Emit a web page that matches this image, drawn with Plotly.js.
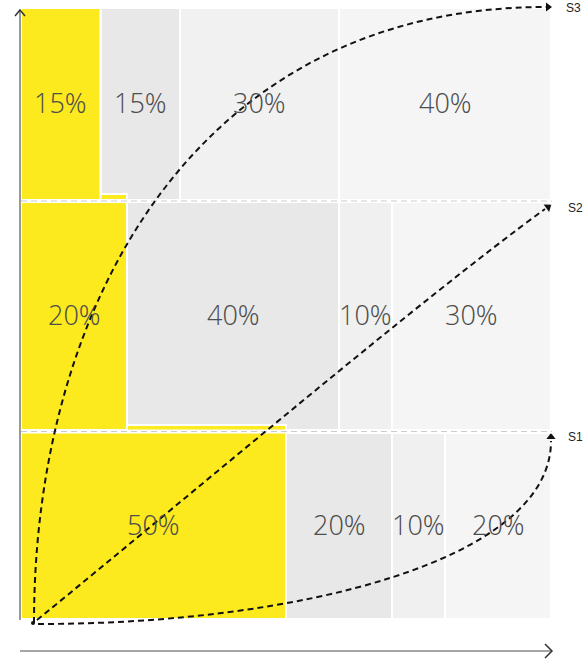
<!DOCTYPE html>
<html>
<head>
<meta charset="utf-8">
<script src="https://cdn.plot.ly/plotly-3.0.1.min.js"></script>
<style>html,body{margin:0;padding:0;background:#fff;}#chart{width:584px;height:659px;}</style>
</head>
<body>
<div id="chart"></div>
<script>
// ---- data ----
const rows = ['S1', 'S2', 'S3'];
const segA = [50, 20, 15];   // yellow segment
const segB = [20, 40, 15];
const segC = [10, 10, 30];
const segD = [20, 30, 40];

// ---- layout geometry (pixels) ----
const W = 584, H = 659;
const X0 = 21, PXU = 5.3;          // x=0 at px 21, 1 unit = 5.3 px
const YBASE = 620;                 // y=0 at px 620, 1 unit = 1 px
const dx = px => (px - X0) / PXU;
const dy = py => YBASE - py;

const rowCenter = [94, 304, 516];
const rowHeight = [186, 228, 192];
const yellowExt = [8, 8, 0];

const segs = [segA, segB, segC, segD];
const colors = [
  ['#FCE91E', '#FCE91E', '#FCE91E'],
  ['#E8E8E8', '#E8E8E8', '#E8E8E8'],
  ['#F0F0F0', '#F0F0F0', '#F1F1F1'],
  ['#F5F5F5', '#F5F5F5', '#F5F5F5']
];

const traces = [];
const bases = rows.map(() => 0);
const built = segs.map((vals, si) => {
  const base = bases.slice();
  vals.forEach((v, i) => { bases[i] += v; });
  const isY = si === 0;
  return {
    type: 'bar', orientation: 'h',
    x: vals, base: base,
    y: rowCenter.map((c, i) => isY ? c + yellowExt[i] / 2 : c),
    width: rowHeight.map((h, i) => isY ? h + yellowExt[i] : h),
    marker: {color: colors[si], line: {color: '#ffffff', width: 2}},
    hoverinfo: 'skip', showlegend: false
  };
});
// draw grays first, yellow last (on top)
traces.push(built[1], built[2], built[3], built[0]);

// percentage labels (centred in each segment)
const annotations = [];
{
  const acc = rows.map(() => 0);
  segs.forEach(vals => {
    vals.forEach((v, i) => {
      annotations.push({
        x: acc[i] + v / 2, y: rowCenter[i] + 2, xref: 'x', yref: 'y',
        text: v + '%', showarrow: false, xanchor: 'center', yanchor: 'middle',
        font: {family: 'Open Sans Light, Open Sans, sans-serif', size: 27, color: '#4d4d4d', weight: 300}
      });
      acc[i] += v;
    });
  });
}

// arrowheads at ends of curves
const tipPx = [[551, 437], [548, 207], [548, 7]];   // S1, S2, S3
const tipAng = [0, 54, 90];
traces.push({
  type: 'scatter', mode: 'markers',
  x: tipPx.map(p => dx(p[0])), y: tipPx.map(p => dy(p[1])),
  marker: {symbol: 'triangle-up', size: 8, angle: tipAng, color: '#111'},
  hoverinfo: 'skip', showlegend: false
});
// origin dot
traces.push({
  type: 'scatter', mode: 'markers',
  x: [dx(33)], y: [dy(623)],
  marker: {symbol: 'circle', size: 4, color: '#111'},
  hoverinfo: 'skip', showlegend: false
});

function P(pts) {
  return pts.map(s => s[0] + ' ' + s.slice(1).map((v, k) => (k % 2 === 0 ? dx(v) : dy(v)).toFixed(3)).join(',')).join(' ');
}

const shapes = [];
// row separators
[431.5, 201].forEach(py => {
  shapes.push({type: 'line', xref: 'x', yref: 'y', x0: dx(21), x1: dx(552), y0: dy(py), y1: dy(py),
    line: {color: '#ffffff', width: 4}});
  shapes.push({type: 'line', xref: 'x', yref: 'y', x0: dx(21), x1: dx(552), y0: dy(py), y1: dy(py),
    line: {color: '#cccccc', width: 1, dash: '6px,4px'}});
});
// dashed curves
const curveLine = {color: '#111', width: 2, dash: '6px,4px'};
shapes.push({type: 'path', xref: 'x', yref: 'y', line: curveLine,
  path: P([['M', 34, 623], ['C', 34, 300, 200, 7, 546, 7]])});
shapes.push({type: 'path', xref: 'x', yref: 'y', line: curveLine,
  path: P([['M', 37, 620], ['C', 200, 487, 420, 300, 545, 209]])});
shapes.push({type: 'path', xref: 'x', yref: 'y', line: curveLine,
  path: P([['M', 38, 624], ['C', 300, 624, 551, 560, 551, 441]])});
// axes
shapes.push({type: 'line', xref: 'x', yref: 'y', x0: dx(20), x1: dx(20), y0: dy(10), y1: dy(620),
  line: {color: '#777', width: 1.5}});
shapes.push({type: 'path', xref: 'x', yref: 'y', line: {color: '#333', width: 1.5},
  path: P([['M', 15, 16], ['L', 20, 10], ['L', 25, 16]])});
shapes.push({type: 'line', xref: 'x', yref: 'y', x0: dx(20), x1: dx(551), y0: dy(651), y1: dy(651),
  line: {color: '#888', width: 1.5}});
shapes.push({type: 'path', xref: 'x', yref: 'y', line: {color: '#333', width: 1.5},
  path: P([['M', 545, 644], ['L', 552, 651], ['L', 545, 658]])});

const labelPx = [[566, 437], [566, 208], [564, 8]];
rows.forEach((r, i) => annotations.push({
  x: dx(labelPx[i][0]), y: dy(labelPx[i][1]), xref: 'x', yref: 'y',
  text: r, showarrow: false, xanchor: 'left', yanchor: 'middle',
  font: {family: 'Liberation Sans, Arial, sans-serif', size: 12, color: '#222'}
}));

const layout = {
  width: W, height: H,
  margin: {l: 0, r: 0, t: 0, b: 0, pad: 0},
  paper_bgcolor: '#ffffff', plot_bgcolor: '#ffffff',
  barmode: 'overlay',
  xaxis: {range: [dx(0), dx(W)], visible: false, fixedrange: true},
  yaxis: {range: [dy(H), dy(0)], visible: false, fixedrange: true},
  shapes: shapes, annotations: annotations, showlegend: false
};

Plotly.newPlot('chart', traces, layout, {staticPlot: true, displayModeBar: false});
</script>
</body>
</html>
